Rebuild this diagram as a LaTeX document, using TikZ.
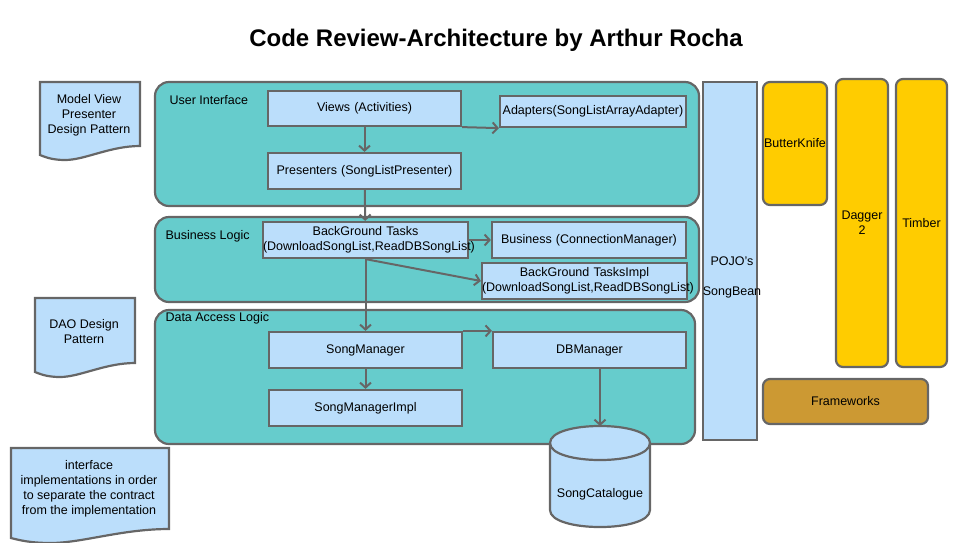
\documentclass[tikz,border=0pt]{standalone}
\usepackage{xcolor}
\usepackage{fontspec}
\setmainfont{Liberation Sans}
\usepackage{tikz}
\usetikzlibrary{arrows.meta,positioning}

\definecolor{layerteal}{HTML}{66CCCC}
\definecolor{boxblue}{HTML}{BBDEFB}
\definecolor{fwyellow}{HTML}{FFCC00}
\definecolor{fwbrown}{HTML}{CC9933}
\definecolor{edgegray}{HTML}{666666}

\tikzset{
	layerbox/.style = {draw=edgegray, line width=2.2, fill=layerteal, rounded corners=14},
	compbox/.style 2 args = {draw=edgegray, line width=2.2, fill=boxblue, inner sep=0,
		text width=#1, minimum height=#2, align=center},
	fwbox/.style 2 args = {draw=edgegray, line width=2.2, fill=fwyellow, rounded corners=7,
		inner sep=0, text width=#1, minimum height=#2, align=center},
	notebox/.style = {draw=edgegray, line width=2.2, fill=boxblue},
	flow/.style = {draw=edgegray, line width=2, -{Straight Barb[length=5,width=11]}},
}

% note sheet: x1, y1, x2, y of right lower corner
\newcommand{\docnote}[4]{%
	\draw[notebox] (#1,#2) -- (#3,#2) -- (#3,#4)
		.. controls ({#3-0.3*(#3-#1)},#4) and ({#1+0.45*(#3-#1)},#4+14) .. ({#1+0.25*(#3-#1)},#4+14)
		.. controls ({#1+0.12*(#3-#1)},#4+14) and ({#1+0.05*(#3-#1)},#4+11) .. (#1,#4+9) -- cycle;
}

\begin{document}
\begin{tikzpicture}[
			x = 1pt, y = -1pt,
			every node/.style = {font = \fontsize{12.5}{15}\selectfont}]

			\useasboundingbox (0,0) rectangle (977,542);

			\node[font = \fontsize{24}{28}\bfseries] (title) at (496,40) {Code Review-Architecture by Arthur Rocha};

			% notes
			\docnote{40}{82}{140}{146}
			\node[align=center] (mvp) at (89,115) {Model View\\Presenter\\Design Pattern};
			\docnote{35}{298}{135}{363}
			\node[align=center] (dao) at (84,331.5) {DAO Design\\Pattern};
			\docnote{11}{448}{169}{529}
			\node[align=center] (iface) at (89,488.5) {interface\\implementations in order\\to separate the contract\\from the implementation};

			% layers
			\node[layerbox, minimum width=544, minimum height=124] (ui) at (427,144) {};
			\node[anchor=west] (uilabel) at (166,100) {User Interface};
			\node[layerbox, minimum width=544, minimum height=85] (bl) at (427,259.5) {};
			\node[anchor=west] (bllabel) at (162,236) {Business Logic};
			\node[layerbox, minimum width=540, minimum height=134] (dal) at (425,377) {};
			\node[anchor=west] (dallabel) at (162,318) {Data Access Logic};

			% components
			\node[compbox={193}{35}] (views) at (364.5,108.5) {Views (Activities)};
			\node[compbox={186}{31}] (adapters) at (593,111.5) {Adapters(SongListArrayAdapter)};
			\node[compbox={193}{36}] (presenters) at (364.5,171) {Presenters (SongListPresenter)};
			\node[compbox={205}{36}] (bgtasks) at (365.5,240) {BackGround Tasks\\(DownloadSongList,ReadDBSongList)};
			\node[compbox={194}{36}] (business) at (589,240) {Business (ConnectionManager)};
			\node[compbox={205}{36}] (bgimpl) at (584.5,281) {BackGround TasksImpl\\(DownloadSongList,ReadDBSongList)};
			\node[compbox={193}{36}] (songmgr) at (365.5,350) {SongManager};
			\node[compbox={193}{36}] (dbmgr) at (589.5,350) {DBManager};
			\node[compbox={193}{36}] (songmgrimpl) at (365.5,408) {SongManagerImpl};

			% database
			\draw[notebox] (550,443) -- (550,510) .. controls (550,532.7) and (650,532.7) .. (650,510) -- (650,443)
				.. controls (650,420.3) and (550,420.3) .. (550,443) -- cycle;
			\draw[draw=edgegray, line width=2.2] (550,443) .. controls (550,465.7) and (650,465.7) .. (650,443);
			\coordinate (cattop) at (600,426);
			\node (catalogue) at (600,494) {SongCatalogue};

			% right column
			\node[compbox={54}{358}] (pojo) at (730,261) {};
			\node[align=center] (pojolabel) at (732,277) {POJO's\\[15pt]SongBean};
			\node[fwbox={64}{123}] (butterknife) at (795,143.5) {ButterKnife};
			\node[fwbox={52}{288}] (dagger) at (862,223) {Dagger\\2};
			\node[fwbox={51}{288}] (timber) at (921.5,223) {Timber};
			\node[fwbox={165}{45}, fill=fwbrown] (frameworks) at (845.5,401.5) {Frameworks};

			% flows
			\draw[flow] (views) -- (presenters);
			\draw[flow] (views.south east) -- (adapters.south west);
			\draw[flow] (presenters) -- (bgtasks);
			\draw[flow] (bgtasks) -- (business);
			\draw[flow] (bgtasks.south) -- (bgimpl.west);
			\draw[flow] (bgtasks) -- (songmgr);
			\draw[flow] (songmgr.north east) -- (dbmgr.north west);
			\draw[flow] (songmgr) -- (songmgrimpl);
			\draw[flow] (dbmgr.south -| cattop) -- (cattop);

		\end{tikzpicture}
\end{document}
